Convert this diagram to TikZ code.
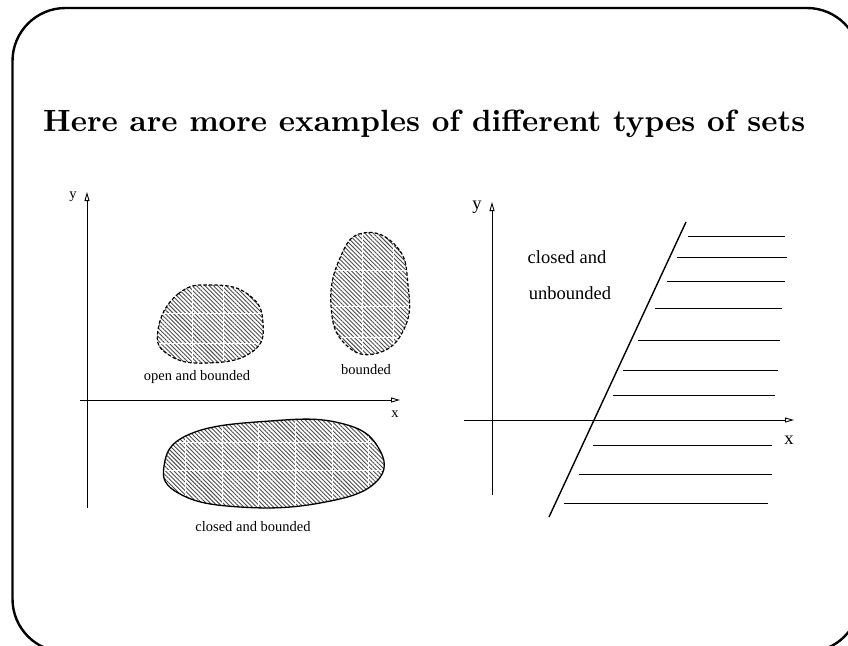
\documentclass[tikz,border=0pt]{standalone}
\usepackage{fontspec}
\newfontfamily\tms{Liberation Serif}
\usetikzlibrary{arrows.meta,patterns.meta}
\tikzset{
  frame/.style={line width=2.4pt,rounded corners=53pt},
  axis/.style={line width=0.9pt,-{Triangle[open,length=9pt,width=5pt]}},
  blobfill/.style={pattern={Lines[angle=-45,distance=3pt,line width=0.9pt]},pattern color=black!70},
  dashedge/.style={line width=1.2pt,dash pattern=on 3.5pt off 2pt},
  solidedge/.style={line width=1.3pt},
  gridw/.style={white,line width=1pt},
  hatch/.style={line width=0.9pt},
  lbl/.style={font=\tms\fontsize{14.5}{16}\selectfont,inner sep=0pt},
  biglbl/.style={font=\tms\fontsize{18.5}{21}\selectfont,inner sep=0pt},
}
\begin{document}
\begin{tikzpicture}[x=1pt,y=-1pt]
\useasboundingbox (0,0) rectangle (848,645);
\begin{scope}
\clip (0,0) rectangle (848,645);
\draw[frame] (12.5,8) rectangle (860,652);
\end{scope}
% title
\node[anchor=base west,inner sep=0pt] (title) at (43,131)
  {\resizebox{762pt}{!}{\bfseries Here are more examples of different types of sets}};

% ---------- left chart ----------
\coordinate (ly0) at (87,508);
\coordinate (ly1) at (87,192);
\coordinate (lx0) at (80,400);
\coordinate (lx1) at (400,400);
\draw[axis] (ly0) -- (ly1);
\draw[axis] (lx0) -- (lx1);
\node[lbl] (ylab) at (73,197) {y};
\node[lbl] (xlab) at (395,414) {x};

% open and bounded blob
\def\openblob{plot[smooth cycle,tension=0.8] coordinates{(158,330) (178,294) (213,285) (249,295) (263,323) (252,352) (208,363) (169,355)}}
\fill[blobfill] \openblob;
\begin{scope}
\clip \openblob;
\foreach \gx in {192,223} \draw[gridw] (\gx,270) -- (\gx,380);
\foreach \gy in {313,343} \draw[gridw] (150,\gy) -- (270,\gy);
\end{scope}
\draw[dashedge] \openblob;
\node[lbl] (openlab) at (197,377) {open and bounded};

% bounded blob
\def\bndblob{plot[smooth cycle,tension=0.8] coordinates{(363,233) (397,247) (408,285) (405,327) (378,353) (345,344) (331,305) (340,258)}}
\fill[blobfill] \bndblob;
\begin{scope}
\clip \bndblob;
\foreach \gx in {362,393} \draw[gridw] (\gx,225) -- (\gx,360);
\foreach \gy in {270,306,337} \draw[gridw] (325,\gy) -- (415,\gy);
\end{scope}
\draw[dashedge] \bndblob;
\node[lbl] (bndlab) at (366,370) {bounded};

% closed and bounded blob
\def\clsblob{plot[smooth cycle,tension=0.75] coordinates{(164,466) (190,434) (270,421) (340,423) (378,447) (376,482) (320,503) (240,507) (180,494)}}
\fill[blobfill] \clsblob;
\begin{scope}
\clip \clsblob;
\foreach \gx in {185,222,258,295,332,368} \draw[gridw] (\gx,410) -- (\gx,515);
\foreach \gy in {442,470} \draw[gridw] (155,\gy) -- (390,\gy);
\end{scope}
\draw[solidedge] \clsblob;
\node[lbl] (clslab) at (253,527) {closed and bounded};

% ---------- right chart ----------
\coordinate (ry0) at (492,495);
\coordinate (ry1) at (492,202);
\coordinate (rx0) at (464,420);
\coordinate (rx1) at (794,420);
\draw[axis] (ry0) -- (ry1);
\draw[axis] (rx0) -- (rx1);
\node[biglbl] (rylab) at (477,207) {y};
\node[biglbl] (rxlab) at (789,440) {x};
\coordinate (s0) at (686,222);
\coordinate (s1) at (549,517);
\draw[line width=1.4pt] (s0) -- (s1);
\foreach \yy/\xa/\xb in {236/688/785, 257/677/787, 281/667/785, 308/655/782, 340/638/780, 370/623/778, 395/613/775, 445/593/772, 474/579/772, 503/564/768}
  \draw[hatch] (\xa,\yy) -- (\xb,\yy);
\node[biglbl] (cu1) at (567,257) {closed and};
\node[biglbl] (cu2) at (570,293) {unbounded};
\end{tikzpicture}
\end{document}
